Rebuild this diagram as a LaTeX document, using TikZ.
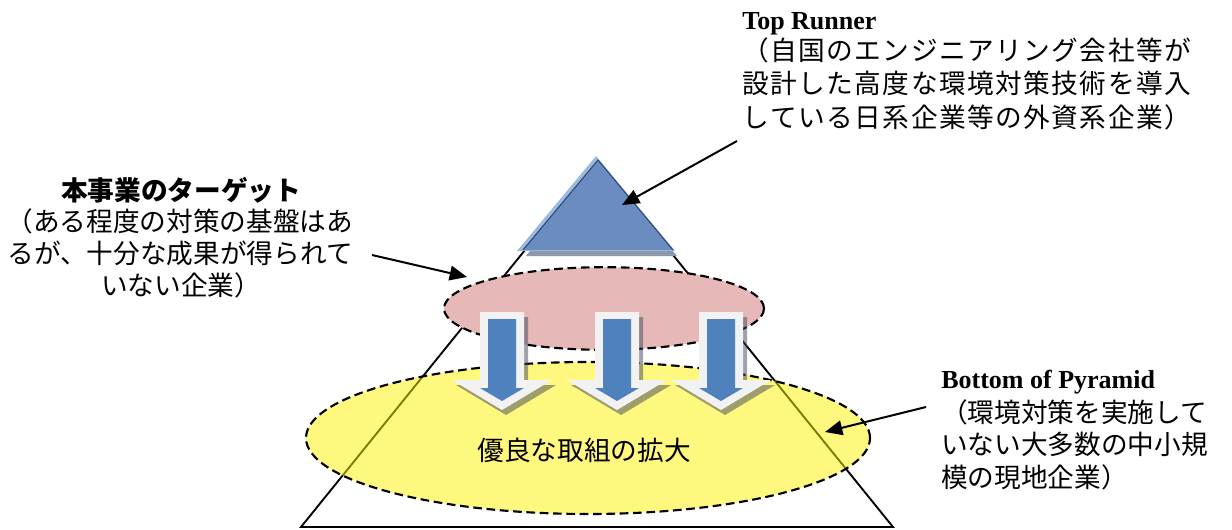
\documentclass[tikz,border=0pt]{standalone}
\usepackage{fontspec}
\setmainfont{Liberation Serif}
\newfontfamily\cjk{Noto Sans CJK JP}
\usetikzlibrary{arrows.meta,shapes.geometric}
\definecolor{pinkfill}{RGB}{230,185,184}
\definecolor{tribody}{RGB}{106,140,192}
\definecolor{trilight}{RGB}{157,185,224}
\definecolor{triedge}{RGB}{43,72,112}
\definecolor{trishade}{RGB}{140,152,170}
\definecolor{arrowblue}{RGB}{79,129,189}
\definecolor{arrowrim}{RGB}{242,242,242}
\definecolor{arrowshade}{RGB}{60,70,90}
\def\spreadloop#1{\ifx\relax#1\else#1\hskip1.1pt\relax\expandafter\spreadloop\fi}
\newcommand\spreadchars[1]{\spreadloop#1\relax}
\begin{document}
\begin{tikzpicture}[x=0.75pt,y=-0.75pt,
  conn/.style={line width=1.5pt,-{Triangle[length=13pt,width=11pt]}},
  jp/.style={font=\cjk\fontsize{20}{24}\selectfont, inner sep=0pt},
  jpbold/.style={font=\cjk\bfseries\fontsize{20}{24}\selectfont, inner sep=0pt},
  latin/.style={font=\bfseries\fontsize{19.5}{23}\selectfont, inner sep=0pt},
  dashline/.style={draw=black, line width=1.6pt, dash pattern=on 6.5pt off 3.5pt},
  pyrline/.style={line width=1.4pt, line join=miter}]
\fill[white] (0,0) rectangle (1232,529);
\useasboundingbox (0,0) rectangle (1232,529);

% big pyramid
\coordinate (apex) at (597,161);
\coordinate (bl) at (301,527);
\coordinate (br) at (893,527);
\draw[pyrline] (apex) -- (bl) -- (br) -- cycle;

% bottom of pyramid ellipse
\node[ellipse, dashline, fill=yellow, fill opacity=0.5, minimum width=423pt, minimum height=114pt, inner sep=0pt] (bopell) at (588,438) {};

% target ellipse
\node[ellipse, dashline, fill=pinkfill, minimum width=240pt, minimum height=62pt, inner sep=0pt] (tgtell) at (604,308.5) {};

% top runner triangle
\fill[trishade] (600,166) -- (526,256) -- (677,256) -- cycle;
\fill[trilight] (596,156) -- (517,251) -- (675,251) -- cycle;
\fill[tribody] (598,160) -- (523,250) -- (673,250) -- cycle;
\draw[triedge, line width=0.8pt] (523,250) -- (598,160) -- (673,250);

% block arrows
\foreach \cx in {502,617,721}{
  \fill[arrowshade, opacity=0.5] (\cx-18,317) -- (\cx+26,317) -- (\cx+26,385) -- (\cx+54,385) -- (\cx+4,415) -- (\cx-46,385) -- (\cx-18,385) -- cycle;
  \fill[arrowrim] (\cx-22,312) -- (\cx+22,312) -- (\cx+22,380) -- (\cx+50,380) -- (\cx,410) -- (\cx-50,380) -- (\cx-22,380) -- cycle;
  \fill[arrowblue] (\cx-14,319) -- (\cx+14,319) -- (\cx+14,388) -- (\cx+22,388) -- (\cx,401) -- (\cx-22,388) -- (\cx-14,388) -- cycle;
}

\node[jp, anchor=base] (expand) at (584,460) {優良な取組の拡大};

% Top Runner text
\node[latin, anchor=base west] (trhead) at (742,29) {Top Runner};
\node[jp, anchor=base west] (trl1) at (742,60) {\spreadchars{（自国のエンジニアリング会社等が}};
\node[jp, anchor=base west] (trl2) at (742,93.5) {\spreadchars{設計した高度な環境対策技術を導入}};
\node[jp, anchor=base west] (trl3) at (742,127) {\spreadchars{している日系企業等の外資系企業）}};

% Target text
\node[jpbold, anchor=base] (tghead) at (181,200) {本事業のターゲット};
\node[jp, anchor=base] (tgl1) at (180,231) {（ある程度の対策の基盤はあ};
\node[jp, anchor=base] (tgl2) at (180,263) {るが、十分な成果が得られて};
\node[jp, anchor=base] (tgl3) at (181,295) {いない企業）};

% Bottom of Pyramid text
\node[latin, anchor=base west] (bophead) at (941,388) {Bottom of Pyramid};
\node[jp, anchor=base west] (bopl1) at (941,422) {（環境対策を実施して};
\node[jp, anchor=base west] (bopl2) at (941,454) {いない大多数の中小規};
\node[jp, anchor=base west] (bopl3) at (941,487) {模の現地企業）};

% connectors
\coordinate (trs) at (737,141);
\coordinate (tre) at (622,205);
\coordinate (tgs) at (372,255);
\coordinate (tge) at (467,277);
\coordinate (bops) at (926,407);
\coordinate (bope) at (825,432);
\draw[conn] (trs) -- (tre);
\draw[conn] (tgs) -- (tge);
\draw[conn] (bops) -- (bope);
\end{tikzpicture}
\end{document}
